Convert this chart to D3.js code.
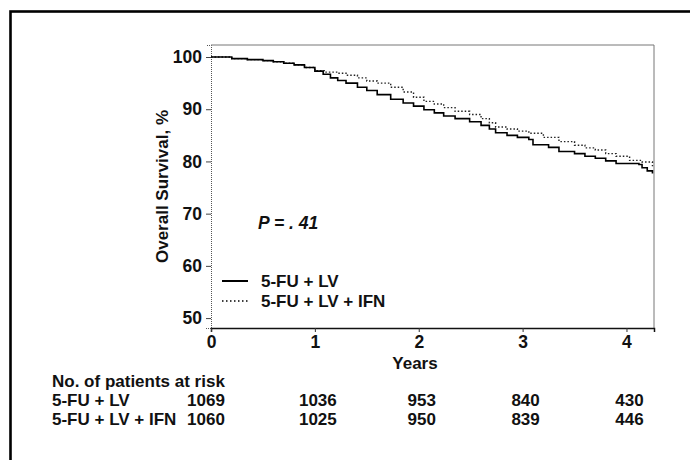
<!DOCTYPE html>
<html>
<head>
<meta charset="utf-8">
<script src="https://cdn.jsdelivr.net/npm/d3@7"></script>
<style>
  body { margin: 0; background: #fff; }
  svg { display: block; font-family: "Liberation Sans", Arial, Helvetica, sans-serif; font-weight: bold; }
</style>
</head>
<body>
<div id="chart"></div>
<script>
// Kaplan-Meier estimates (years, % surviving)
var lvTimes = [0, 0.15, 0.2, 0.35, 0.5, 0.6, 0.7, 0.8, 0.9, 1.0, 1.08, 1.15, 1.22, 1.3, 1.41, 1.5, 1.6, 1.73, 1.85, 1.95,
  2.05, 2.15, 2.24, 2.35, 2.49, 2.6, 2.68, 2.74, 2.85, 2.95, 3.06, 3.1, 3.25, 3.35, 3.5, 3.6, 3.7, 3.8, 3.9, 4.12, 4.15, 4.2, 4.25];
var lvSurv = [100, 100, 99.7, 99.5, 99.3, 99.1, 98.8, 98.5, 98.0, 97.3, 96.7, 96.0, 95.5, 95.0, 94.2, 93.6, 92.8, 91.9, 91.2, 90.6,
  89.9, 89.3, 88.7, 88.2, 87.6, 86.9, 86.2, 85.5, 85.0, 84.6, 84.2, 83.2, 82.7, 81.9, 81.5, 81.0, 80.6, 80.1, 79.6, 79.4, 78.8, 78.2, 77.7];

var ifnTimes = [0, 0.15, 0.2, 0.35, 0.5, 0.6, 0.7, 0.8, 0.9, 1.0, 1.1, 1.22, 1.3, 1.41, 1.5, 1.6, 1.73, 1.85, 1.95,
  2.05, 2.15, 2.24, 2.35, 2.49, 2.6, 2.68, 2.74, 2.85, 2.95, 3.06, 3.2, 3.35, 3.5, 3.6, 3.7, 3.8, 3.9, 4.03, 4.15, 4.25];
var ifnSurv = [100, 100, 99.7, 99.5, 99.3, 99.1, 98.8, 98.5, 98.0, 97.4, 97.1, 96.9, 96.5, 96.0, 95.4, 95.0, 94.2, 93.3, 92.3,
  91.5, 91.0, 90.3, 89.6, 89.0, 88.2, 87.4, 86.6, 86.2, 85.8, 85.4, 84.6, 83.8, 83.1, 82.6, 82.2, 81.5, 81.0, 80.2, 79.9, 79.1];

var seriesNames = ["5-FU + LV", "5-FU + LV + IFN"];
var xTicks = [0, 1, 2, 3, 4];
var yTicks = [50, 60, 70, 80, 90, 100];
var riskTimes = [0, 1, 2, 3, 4];
var riskLV = [1069, 1036, 953, 840, 430];
var riskIFN = [1060, 1025, 950, 839, 446];

var W = 690, H = 460;
var svg = d3.select('#chart').append('svg').attr('width', W).attr('height', H);

// outer frame (only left/top edges fall inside the picture)
svg.append('rect').attr('x', 10.5).attr('y', 11.5).attr('width', 720).attr('height', 480)
  .attr('fill', 'none').attr('stroke', '#000').attr('stroke-width', 2.6);

var pLeft = 211, pRight = 654, pTop = 45, pBottom = 328;
var x = d3.scaleLinear().domain([0, 4.265]).range([pLeft, pRight]);
var y = d3.scaleLinear().domain([48.1, 102.3]).range([pBottom, pTop]);

// plot box
svg.append('path')
  .attr('d', 'M' + pLeft + ',' + pTop + 'H' + pRight + 'V' + pBottom)
  .attr('fill', 'none').attr('stroke', '#777').attr('stroke-width', 1);

// y axis
var yAxis = svg.append('g').attr('transform', 'translate(' + pLeft + ',0)')
  .call(d3.axisLeft(y).tickValues(yTicks).tickSize(5).tickPadding(4));
yAxis.select('.domain').attr('stroke', '#555').attr('stroke-dasharray', '1,1');
yAxis.selectAll('.tick line').attr('stroke', '#444');
yAxis.selectAll('text').attr('font-size', 17.5).attr('font-family', null).attr('fill', '#111');

// x axis
var xAxis = svg.append('g').attr('transform', 'translate(0,' + pBottom + ')')
  .call(d3.axisBottom(x).tickValues(xTicks).tickFormat(d3.format('d')).tickSize(4).tickPadding(4));
xAxis.select('.domain').attr('stroke', '#111').attr('stroke-width', 1.5);
xAxis.selectAll('.tick line').attr('stroke', '#333');
xAxis.selectAll('text').attr('font-size', 17.5).attr('font-family', null).attr('fill', '#111');

svg.append('text').attr('x', 415).attr('y', 369).attr('text-anchor', 'middle')
  .attr('font-size', 17).attr('fill', '#111').text('Years');

svg.append('text').attr('transform', 'translate(168,' + ((pTop + pBottom) / 2) + ') rotate(-90)')
  .attr('text-anchor', 'middle').attr('font-size', 17).attr('fill', '#111').text('Overall Survival, %');

// survival curves
var line = d3.line().curve(d3.curveStepAfter).x(function(d){ return x(d[0]); }).y(function(d){ return y(d[1]); });
var lvData = d3.zip(lvTimes, lvSurv);
var ifnData = d3.zip(ifnTimes, ifnSurv);

svg.append('path').datum(ifnData).attr('d', line)
  .attr('fill', 'none').attr('stroke', '#222').attr('stroke-width', 1.4).attr('stroke-dasharray', '1.5,2');
svg.append('path').datum(lvData).attr('d', line)
  .attr('fill', 'none').attr('stroke', '#000').attr('stroke-width', 1.6);

// P value
svg.append('text').attr('x', 258).attr('y', 229).attr('font-size', 17.5).attr('font-style', 'italic')
  .attr('fill', '#111').text('P = . 41');

// legend
var legend = svg.append('g');
seriesNames.forEach(function(name, i){
  var ly = 281 + i * 20;
  legend.append('line').attr('x1', 222).attr('x2', 248).attr('y1', ly).attr('y2', ly)
    .attr('stroke', '#000').attr('stroke-width', i == 0 ? 2 : 1.4)
    .attr('stroke-dasharray', i == 0 ? null : '1.5,2.5');
  legend.append('text').attr('x', 261).attr('y', ly + 6).attr('font-size', 17).attr('fill', '#111').text(name);
});

// number at risk table
var table = svg.append('g').attr('font-size', 17).attr('fill', '#111');
table.append('text').attr('x', 52).attr('y', 387).text('No. of patients at risk');
[riskLV, riskIFN].forEach(function(row, i){
  var ry = 406 + i * 18.5;
  table.append('text').attr('x', 52).attr('y', ry).text(seriesNames[i]);
  table.selectAll(null).data(row).enter().append('text')
    .attr('x', function(d, j){ return x(riskTimes[j]) + (j == 0 ? -5 : 3); })
    .attr('y', ry).attr('text-anchor', 'middle')
    .text(function(d){ return d; });
});
</script>
</body>
</html>
